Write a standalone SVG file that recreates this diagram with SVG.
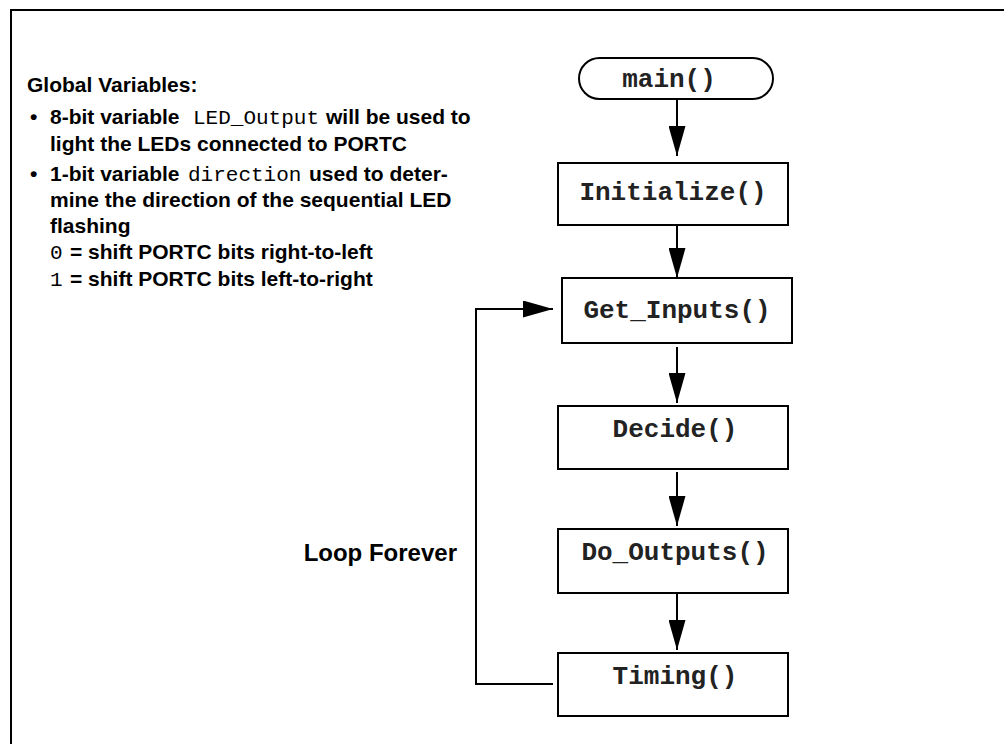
<svg xmlns="http://www.w3.org/2000/svg" width="1004" height="744" viewBox="0 0 1004 744">
<style>
.frame{fill:none;stroke:#000;stroke-width:2}
.box{fill:#fff;stroke:#000;stroke-width:2}
.lbl{font-family:"Liberation Mono","Courier New",monospace;font-weight:bold;font-size:26px;fill:#222;text-anchor:middle}
.note{font-family:"Liberation Sans",Arial,sans-serif;font-weight:bold;font-size:21px;fill:#000}
.mono{font-family:"Liberation Mono","Courier New",monospace;font-weight:normal}
.conn{fill:none;stroke:#000;stroke-width:2}
.loop{font-family:"Liberation Sans",Arial,sans-serif;font-weight:bold;font-size:24px;fill:#000;text-anchor:end}
</style>
<defs>
<marker id="arr" markerUnits="userSpaceOnUse" markerWidth="30" markerHeight="17" refX="30" refY="8.5" orient="auto">
<path d="M0,0 L30,8.5 L0,17 z" fill="#000"/>
</marker>
</defs>
<rect width="1004" height="744" fill="#fff"/>
<path class="frame" d="M11,744 V10 H1004"/>

<g id="notes" class="note">
<text x="27" y="92">Global Variables:</text>
<text x="30" y="124">•</text>
<text x="50" y="124">8-bit variable</text>
<text x="193" y="124" class="mono">LED_Output</text>
<text x="326" y="124">will be used to</text>
<text x="50" y="151">light the LEDs connected to PORTC</text>
<text x="30" y="181">•</text>
<text x="50" y="181">1-bit variable</text>
<text x="188" y="181" class="mono">direction</text>
<text x="309" y="181">used to deter-</text>
<text x="50" y="207">mine the direction of the sequential LED</text>
<text x="50" y="233">flashing</text>
<text x="50" y="259" class="mono">0</text>
<text x="70" y="259">= shift PORTC bits right-to-left</text>
<text x="50" y="286" class="mono">1</text>
<text x="70" y="286">= shift PORTC bits left-to-right</text>
</g>

<text class="loop" x="457" y="561">Loop Forever</text>

<g id="connectors">
<path class="conn" d="M677,99 V156" marker-end="url(#arr)"/>
<path class="conn" d="M677,225 V278" marker-end="url(#arr)"/>
<path class="conn" d="M677,347 V403" marker-end="url(#arr)"/>
<path class="conn" d="M677,472 V526" marker-end="url(#arr)"/>
<path class="conn" d="M677,593 V650" marker-end="url(#arr)"/>
<path class="conn" d="M553,684 H476 V309 H553" marker-end="url(#arr)"/>
</g>

<g id="main">
<rect class="box" x="579" y="58" width="194" height="41" rx="20.5"/>
<text class="lbl" x="669" y="87">main()</text>
</g>
<g id="initialize">
<rect class="box" x="558" y="163" width="230" height="62"/>
<text class="lbl" x="673" y="200">Initialize()</text>
</g>
<g id="get_inputs">
<rect class="box" x="562" y="278" width="230" height="65"/>
<text class="lbl" x="677" y="318">Get_Inputs()</text>
</g>
<g id="decide">
<rect class="box" x="558" y="406" width="230" height="63"/>
<text class="lbl" x="675" y="437">Decide()</text>
</g>
<g id="do_outputs">
<rect class="box" x="558" y="529" width="230" height="64"/>
<text class="lbl" x="675" y="560">Do_Outputs()</text>
</g>
<g id="timing">
<rect class="box" x="558" y="653" width="230" height="63"/>
<text class="lbl" x="675" y="684">Timing()</text>
</g>
</svg>
